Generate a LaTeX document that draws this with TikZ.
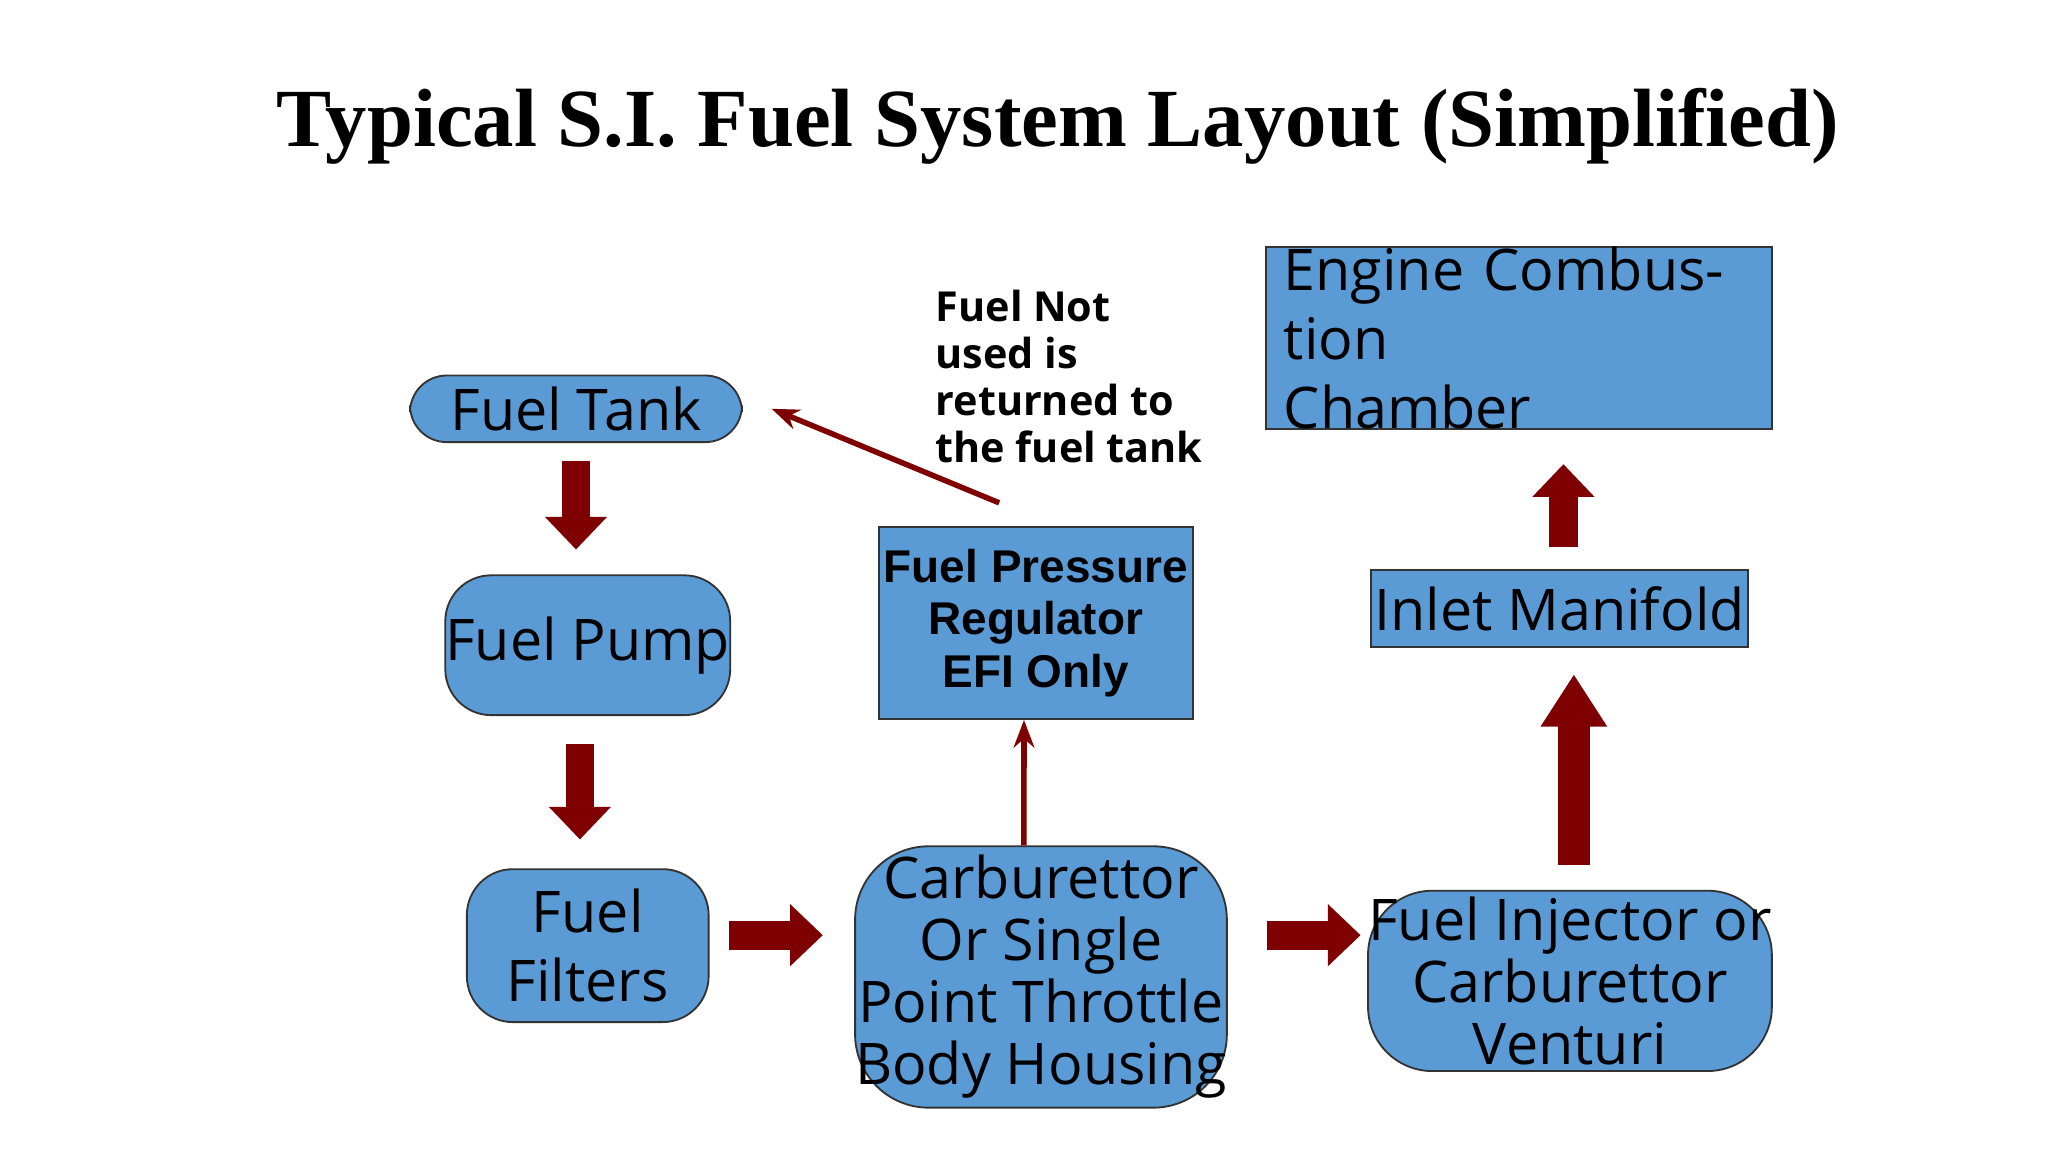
\documentclass[tikz,border=0pt]{standalone}
\usepackage{fontspec}
\setmainfont{Liberation Serif}
\newfontfamily\boxfont{Open Sans}
\newfontfamily\regfont{Liberation Sans}
\usetikzlibrary{arrows.meta,positioning}
\definecolor{boxblue}{HTML}{5B9BD5}
\definecolor{flowred}{HTML}{7F0000}
\begin{document}
\begin{tikzpicture}[x=0.01cm,y=-0.01cm,
  part/.style={draw=black!80,fill=boxblue,rounded corners=8pt,align=center,
    font=\boxfont\fontsize{12.5}{15}\selectfont,inner sep=0pt},
  plain/.style={part,rounded corners=0pt},
  flow/.style={draw=flowred,line width=0.22cm,-{Triangle[length=0.25cm,width=0.46cm]}},
  bigflow/.style={draw=flowred,line width=0.24cm,-{Triangle[length=0.4cm,width=0.48cm]}},
  thin/.style={draw=flowred,line width=1.2pt,-{Stealth[length=6pt]}}]
  \useasboundingbox (0,0) rectangle (1568,882);
  \fill[white] (0,0) rectangle (1568,882);
  \node[font=\bfseries\fontsize{18}{22}\selectfont] (title) at (810,97) {Typical S.I. Fuel System Layout (Simplified)};
  % boxes
  \node[part,minimum width=2.54cm,minimum height=0.51cm] (tank) at (441,313) {Fuel Tank};
  \node[part,minimum width=1.95cm,minimum height=1.07cm,rounded corners=10pt] (pump) at (450,494) {Fuel Pump};
  \node[part,minimum width=1.85cm,minimum height=1.17cm,rounded corners=10pt] (filters) at (450,724) {Fuel\\Filters};
  \node[part,minimum width=2.67cm,minimum height=2.0cm,rounded corners=16pt,font=\boxfont\fontsize{12.5}{13.5}\selectfont] (carb) at (797,748) {Carburettor\\Or Single\\Point Throttle\\Body Housing};
  \node[part,minimum width=3.09cm,minimum height=1.38cm,rounded corners=14pt,font=\boxfont\fontsize{12.5}{13.5}\selectfont] (injector) at (1202,751) {Fuel Injector or\\Carburettor\\Venturi};
  \node[plain,minimum width=2.4cm,minimum height=1.47cm,font=\regfont\bfseries\fontsize{10}{11.5}\selectfont] (regulator) at (793,477) {Fuel Pressure\\Regulator\\EFI Only};
  \node[plain,minimum width=2.89cm,minimum height=0.59cm] (manifold) at (1194,466) {Inlet Manifold};
  \node[plain,minimum width=3.87cm,minimum height=1.06cm,align=left,text width=3.6cm] (engine) at (1163,259) {Engine Combustion\\Chamber};
  \node[font=\boxfont\bfseries\fontsize{9}{10.2}\selectfont,align=left,anchor=north west] (note) at (704,210) {Fuel Not\\used is\\returned to\\the fuel tank};
  % block arrows
  \draw[flow,shorten <=0.14cm,shorten >=0.19cm] (tank.south) -- (tank.south |- pump.north);
  \draw[flow,shorten <=0.21cm,shorten >=0.22cm] ([xshift=-0.06cm]pump.south) -- ([xshift=-0.06cm]pump.south |- filters.north);
  \draw[flow,shorten <=0.15cm,shorten >=0.24cm] (filters.east |- 0,716) -- (carb.west |- 0,716);
  \draw[flow,shorten <=0.3cm,shorten >=0.05cm] (carb.east |- 0,716) -- (injector.west |- 0,716);
  \draw[bigflow,shorten <=0.19cm,shorten >=0.2cm] ([xshift=0.03cm]injector.north) -- ([xshift=0.03cm]injector.north |- manifold.south);
  \draw[flow,shorten <=0.17cm,shorten >=0.26cm] ([xshift=0.03cm]manifold.north) -- ([xshift=0.03cm]manifold.north |- engine.south);
  % return lines
  \coordinate (ret) at (765,385);
  \draw[thin] ([xshift=-0.13cm]carb.north) -- ([xshift=-0.09cm]regulator.south);
  \draw[thin] (ret) -- ([xshift=0.22cm]tank.east);
\end{tikzpicture}
\end{document}
